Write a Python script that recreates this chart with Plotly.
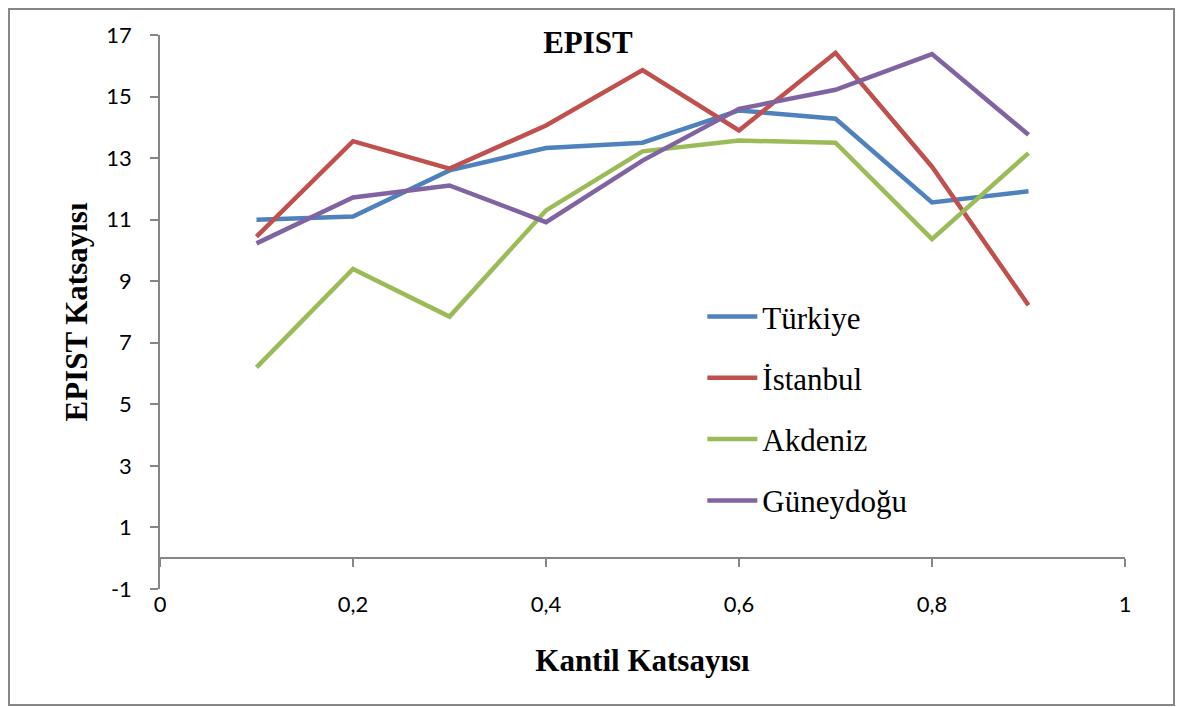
import plotly.graph_objects as go

# quantile levels and EPIST coefficients
kantil = [0.1, 0.2, 0.3, 0.4, 0.5, 0.6, 0.7, 0.8, 0.9]
turkiye = [11.0, 11.1, 12.6, 13.33, 13.5, 14.55, 14.28, 11.56, 11.92]
istanbul = [10.45, 13.55, 12.66, 14.06, 15.86, 13.9, 16.42, 12.72, 8.22]
akdeniz = [6.2, 9.4, 7.85, 11.3, 13.22, 13.57, 13.5, 10.37, 13.16]
guneydogu = [10.23, 11.72, 12.11, 10.92, 12.92, 14.6, 15.22, 16.38, 13.76]

series = [("Türkiye", turkiye, "#4F81BD"),
          ("İstanbul", istanbul, "#C0504D"),
          ("Akdeniz", akdeniz, "#9BBB59"),
          ("Güneydoğu", guneydogu, "#8064A2")]

x_ticks = [0, 0.2, 0.4, 0.6, 0.8, 1]
x_labels = ["0", "0,2", "0,4", "0,6", "0,8", "1"]
y_ticks = [-1, 1, 3, 5, 7, 9, 11, 13, 15, 17]
y_labels = ["-1", "1", "3", "5", "7", "9", "11", "13", "15", "17"]

axis_grey = "#868686"
tick_font = dict(family="Lato, Open Sans, sans-serif", size=22, color="black")
serif = "Liberation Serif, Times New Roman, serif"

fig = go.Figure()
for name, vals, col in series:
    fig.add_trace(go.Scatter(x=kantil, y=vals, name=name, mode="lines",
                             legendgroup=name,
                             line=dict(color=col, width=4.5)))

fig.update_layout(
    width=1176, height=699,
    margin=dict(l=152, r=59, t=27, b=118),
    paper_bgcolor="white", plot_bgcolor="white",
    title=dict(text="<b>EPIST</b>", x=(588 - 8) / 1176, xanchor="center",
               y=1 - 34 / 699, yanchor="middle",
               font=dict(family=serif, size=31, color="black")),
    legend=dict(x=0.562, y=0.54, xanchor="left", yanchor="top",
                font=dict(family=serif, size=31, color="black"),
                tracegroupgap=18, bgcolor="rgba(0,0,0,0)", itemwidth=50),
    showlegend=True,
)

fig.update_xaxes(range=[0, 1], tickvals=x_ticks, ticktext=x_labels,
                 showline=False, ticks="", showgrid=False, zeroline=False,
                 tickfont=tick_font,
                 title=dict(text="<b>Kantil Katsayısı</b>", standoff=33,
                            font=dict(family=serif, size=31, color="black")))
fig.update_yaxes(range=[-1, 17], tickvals=y_ticks, ticktext=y_labels,
                 showline=True, linecolor=axis_grey, linewidth=1.5,
                 ticks="outside", tickcolor=axis_grey, ticklen=8, tickwidth=1.5,
                 ticklabelstandoff=14,
                 showgrid=False, zeroline=False, tickfont=tick_font,
                 title=dict(text="<b>EPIST Katsayısı</b>", standoff=9,
                            font=dict(family=serif, size=31, color="black")))

# x axis line crossing at y = 0, ticks pointing down, labels stay at the bottom
fig.update_layout(xaxis2=dict(overlaying="x", anchor="free", position=1 / 18,
                              range=[0, 1], tickvals=x_ticks, showticklabels=False,
                              showline=True, linecolor=axis_grey, linewidth=1.5,
                              ticks="outside", ticklen=8, tickwidth=1.5,
                              tickcolor=axis_grey, showgrid=False, zeroline=False))
fig.add_trace(go.Scatter(x=[None], y=[None], xaxis="x2", showlegend=False,
                         hoverinfo="skip"))

# outer chart border
fig.add_shape(type="rect", xref="paper", yref="paper",
              x0=-0.1565, x1=1.0508, y0=-0.2094, y1=1.0469,
              line=dict(color=axis_grey, width=2), layer="below")

fig.write_html("out.html")
